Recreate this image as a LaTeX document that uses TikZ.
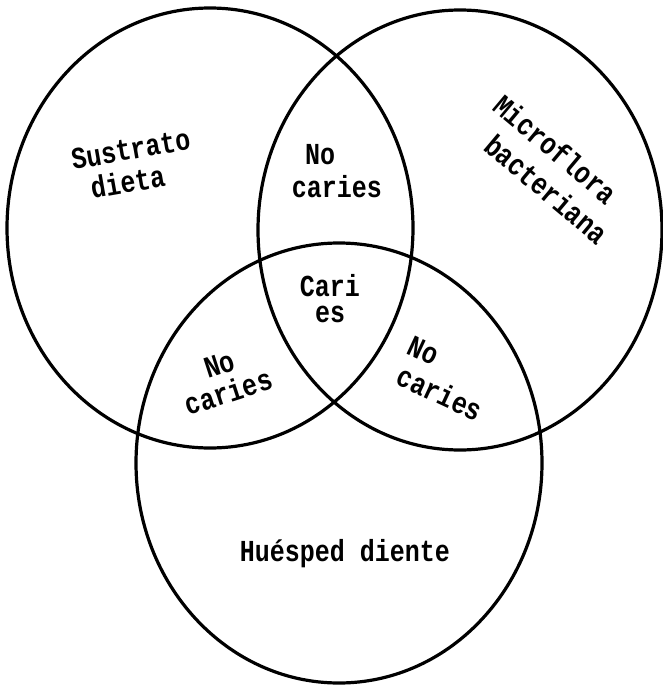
\documentclass[tikz,border=0pt]{standalone}
\usepackage{graphicx}
\usepackage{fontspec}
\setmainfont{Liberation Mono}
\newcommand\talltext[1]{\scalebox{1}[1.22]{#1}}
\begin{document}
\begin{tikzpicture}[x=1pt,y=-1pt,
  ring/.style={line width=3.2pt},
  lbl/.style={font=\fontsize{25}{28}\selectfont\bfseries, inner sep=0pt, anchor=center, text height=17pt, text depth=0pt}]
\useasboundingbox (0,0) rectangle (662,688);
\fill[white] (0,0) rectangle (662,688);
% three circles
\draw[ring] (210,228) ellipse [x radius=203pt, y radius=220pt];
\draw[ring] (460,230) ellipse [x radius=202pt, y radius=220pt];
\draw[ring] (339,463) ellipse [x radius=203pt, y radius=220pt];
% labels
\node[lbl, rotate=10] (sus) at (131,151) {\talltext{Sustrato}};
\node[lbl, rotate=10] (die) at (128,184) {\talltext{dieta}};
\node[lbl, rotate=-40] (mic) at (554,151) {\talltext{Microflora}};
\node[lbl, rotate=-40] (bac) at (545,191) {\talltext{bacteriana}};
\node[lbl] (no1) at (320,156) {\talltext{No}};
\node[lbl] (ca1) at (337,189) {\talltext{caries}};
\node[lbl] (car) at (330,288) {\talltext{Cari}};
\node[lbl] (es) at (330,314) {\talltext{es}};
\node[lbl, rotate=18] (no2) at (220,366) {\talltext{No}};
\node[lbl, rotate=18] (ca2) at (229,394) {\talltext{caries}};
\node[lbl, rotate=-25] (no3) at (423,352) {\talltext{No}};
\node[lbl, rotate=-25] (ca3) at (439,395) {\talltext{caries}};
\node[lbl] (hue) at (345,553) {\talltext{Huésped diente}};
\end{tikzpicture}
\end{document}
